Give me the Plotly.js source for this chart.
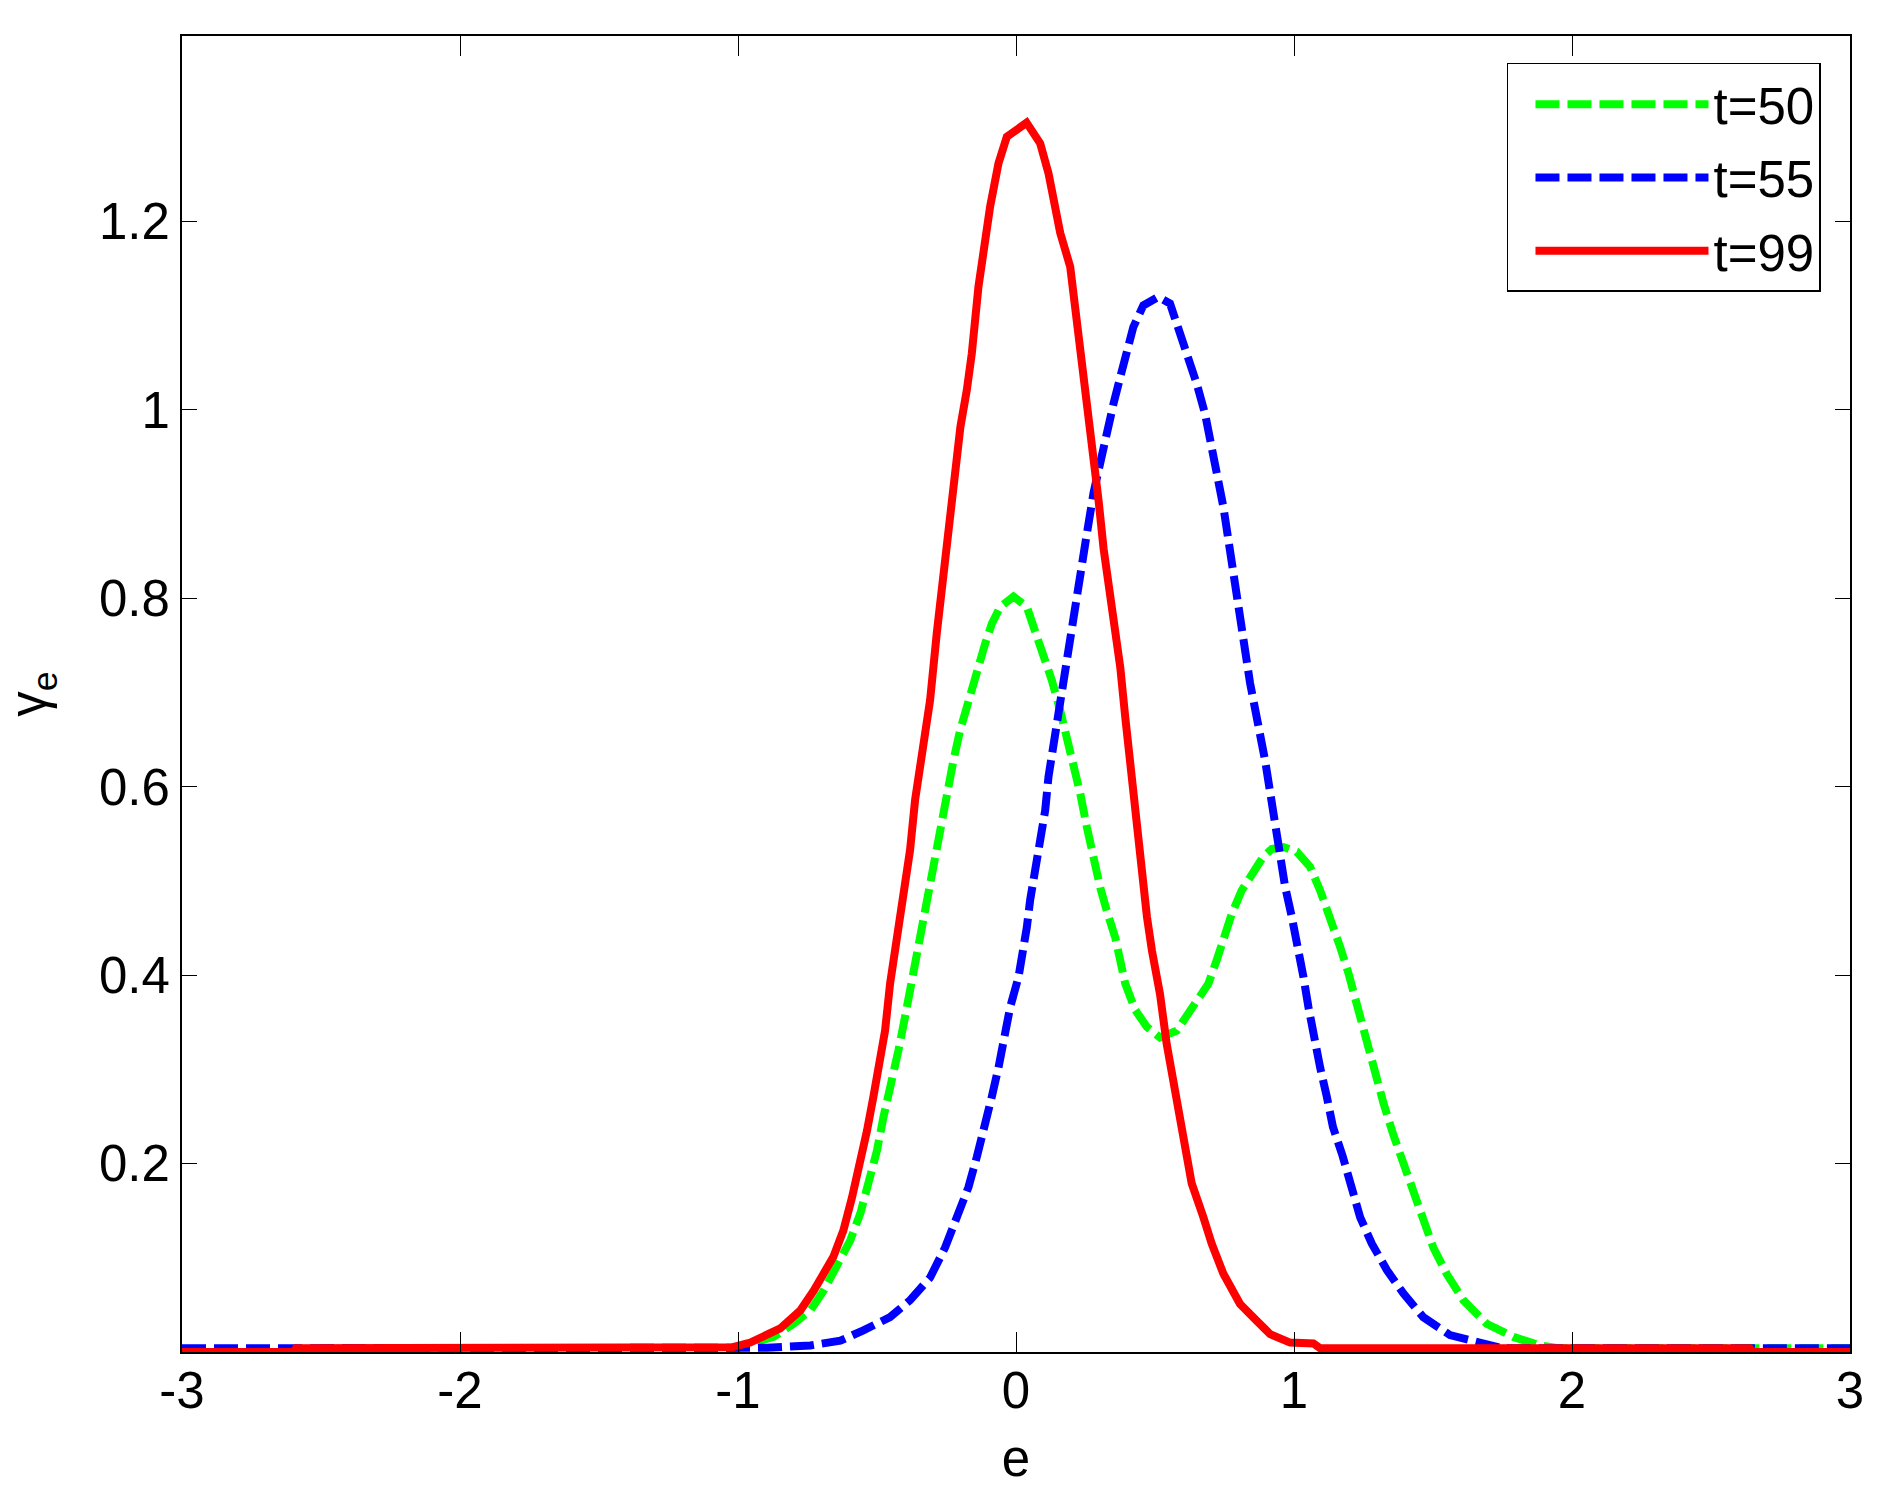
<!DOCTYPE html>
<html>
<head>
<meta charset="utf-8">
<script src="https://cdn.plot.ly/plotly-3.0.1.min.js"></script>
<style>
  html, body { margin: 0; padding: 0; background: #fff; }
  #chart { width: 1896px; height: 1497px; }
</style>
</head>
<body>
<div id="chart"></div>
<script>
// ---- data ----
const seriesNames = ["t=50", "t=55", "t=99"];

const xT50 = [-3, -1.0, -0.98, -0.872, -0.8, -0.74, -0.692, -0.644, -0.597, -0.56, -0.53, -0.5, -0.477, -0.447, -0.423, -0.399, -0.375, -0.351, -0.327, -0.303, -0.285, -0.267, -0.249, -0.225, -0.201, -0.171, -0.141, -0.111, -0.087, -0.057, -0.009, 0.039, 0.063, 0.099, 0.129, 0.159, 0.183, 0.207, 0.231, 0.255, 0.279, 0.303, 0.327, 0.357, 0.393, 0.429, 0.471, 0.518, 0.578, 0.614, 0.656, 0.692, 0.722, 0.746, 0.776, 0.812, 0.854, 0.89, 0.92, 0.962, 1.01, 1.058, 1.094, 1.13, 1.166, 1.196, 1.226, 1.262, 1.292, 1.322, 1.358, 1.394, 1.429, 1.459, 1.501, 1.549, 1.609, 1.693, 1.789, 1.885, 1.95, 3];
const yT50 = [0, 0.004, 0.007, 0.016, 0.03, 0.044, 0.065, 0.09, 0.118, 0.147, 0.179, 0.214, 0.249, 0.285, 0.32, 0.356, 0.395, 0.434, 0.465, 0.501, 0.533, 0.568, 0.596, 0.628, 0.66, 0.692, 0.724, 0.752, 0.773, 0.791, 0.802, 0.791, 0.77, 0.742, 0.713, 0.681, 0.653, 0.625, 0.593, 0.557, 0.522, 0.493, 0.468, 0.44, 0.391, 0.363, 0.345, 0.334, 0.341, 0.356, 0.373, 0.391, 0.416, 0.441, 0.465, 0.49, 0.508, 0.526, 0.534, 0.536, 0.531, 0.515, 0.49, 0.462, 0.43, 0.402, 0.368, 0.327, 0.295, 0.264, 0.23, 0.2, 0.17, 0.14, 0.111, 0.083, 0.055, 0.03, 0.016, 0.007, 0.004, 0.004];

const xT55 = [-3, -0.896, -0.74, -0.632, -0.549, -0.453, -0.381, -0.309, -0.255, -0.213, -0.171, -0.141, -0.111, -0.087, -0.063, -0.045, -0.021, 0.009, 0.027, 0.039, 0.051, 0.069, 0.087, 0.105, 0.117, 0.135, 0.153, 0.171, 0.189, 0.207, 0.225, 0.243, 0.255, 0.279, 0.303, 0.327, 0.351, 0.375, 0.399, 0.422, 0.458, 0.512, 0.554, 0.584, 0.614, 0.65, 0.68, 0.704, 0.722, 0.746, 0.764, 0.794, 0.818, 0.842, 0.896, 0.914, 0.932, 0.95, 0.968, 0.992, 1.016, 1.034, 1.052, 1.07, 1.094, 1.118, 1.14, 1.175, 1.208, 1.238, 1.28, 1.334, 1.394, 1.465, 1.561, 1.669, 1.75, 3];
const yT55 = [0.004, 0.0045, 0.007, 0.012, 0.023, 0.037, 0.055, 0.079, 0.111, 0.143, 0.175, 0.207, 0.239, 0.271, 0.302, 0.334, 0.366, 0.398, 0.426, 0.451, 0.48, 0.511, 0.547, 0.575, 0.611, 0.646, 0.678, 0.71, 0.745, 0.78, 0.812, 0.844, 0.869, 0.912, 0.947, 0.975, 1.007, 1.035, 1.064, 1.088, 1.111, 1.12, 1.113, 1.088, 1.06, 1.028, 0.996, 0.965, 0.933, 0.897, 0.862, 0.805, 0.756, 0.71, 0.628, 0.593, 0.561, 0.526, 0.494, 0.462, 0.43, 0.398, 0.366, 0.334, 0.302, 0.271, 0.239, 0.208, 0.177, 0.143, 0.115, 0.087, 0.062, 0.037, 0.018, 0.009, 0.004, 0.004];

const xT99 = [-3, -2.6, -2.59, -1.022, -0.956, -0.848, -0.776, -0.728, -0.657, -0.621, -0.59, -0.56, -0.536, -0.513, -0.489, -0.471, -0.453, -0.435, -0.405, -0.381, -0.363, -0.333, -0.309, -0.285, -0.249, -0.219, -0.2, -0.177, -0.159, -0.135, -0.117, -0.093, -0.063, -0.033, 0.038, 0.087, 0.117, 0.141, 0.159, 0.195, 0.213, 0.237, 0.255, 0.279, 0.297, 0.315, 0.351, 0.375, 0.393, 0.411, 0.435, 0.471, 0.489, 0.518, 0.542, 0.566, 0.599, 0.632, 0.674, 0.704, 0.746, 0.806, 0.866, 0.914, 0.986, 1.07, 1.094, 2.64, 2.65, 3];
const yT99 = [0, 0, 0.004, 0.005, 0.01, 0.025, 0.044, 0.065, 0.101, 0.129, 0.164, 0.2, 0.235, 0.271, 0.306, 0.341, 0.391, 0.426, 0.48, 0.533, 0.586, 0.639, 0.692, 0.763, 0.853, 0.94, 0.982, 1.021, 1.06, 1.131, 1.17, 1.216, 1.262, 1.29, 1.305, 1.283, 1.251, 1.216, 1.188, 1.152, 1.11, 1.053, 1.011, 0.954, 0.904, 0.853, 0.78, 0.727, 0.674, 0.621, 0.55, 0.462, 0.426, 0.38, 0.327, 0.285, 0.232, 0.179, 0.143, 0.115, 0.083, 0.051, 0.033, 0.019, 0.01, 0.009, 0.004, 0.004, 0, 0];

const xTickVals = [-3, -2, -1, 0, 1, 2, 3];
const xTickText = ["-3", "-2", "-1", "0", "1", "2", "3"];
const yTickVals = [0.2, 0.4, 0.6, 0.8, 1, 1.2];
const yTickText = ["0.2", "0.4", "0.6", "0.8", "1", "1.2"];

// ---- chart ----
const FONT = "Liberation Sans, Arial, Helvetica, sans-serif";
const traces = [
  {x: xT50, y: yT50, name: seriesNames[0], legendgroup: "g1", mode: "lines",
   line: {color: "#00ff00", width: 8, dash: "24px,8px"}},
  {x: xT55, y: yT55, name: seriesNames[1], legendgroup: "g2", mode: "lines",
   line: {color: "#0000ff", width: 8, dash: "24px,8px"}},
  {x: xT99, y: yT99, name: seriesNames[2], legendgroup: "g3", mode: "lines",
   line: {color: "#ff0000", width: 8}}
];

const axisCommon = {
  showgrid: false, zeroline: false,
  showline: true, linecolor: "#000", linewidth: 2,
  mirror: "ticks", ticks: "inside", tickcolor: "#000", tickwidth: 1,
  tickfont: {family: FONT, size: 51, color: "#000"},
  automargin: false
};

const layout = {
  width: 1896, height: 1497,
  paper_bgcolor: "#fff", plot_bgcolor: "#fff",
  margin: {l: 182, r: 46, t: 36, b: 145},
  font: {family: FONT, color: "#000"},
  showlegend: true,
  legend: {
    x: 0.9826, y: 0.9795, xanchor: "right", yanchor: "top",
    bgcolor: "#fff", bordercolor: "#000", borderwidth: 1.5,
    font: {family: FONT, size: 51, color: "#000"},
    itemwidth: 173, indentation: 22,
    traceorder: "grouped", tracegroupgap: 4
  },
  xaxis: Object.assign({}, axisCommon, {
    range: [-3, 3], tickmode: "array", tickvals: xTickVals, ticktext: xTickText,
    ticklen: 20, ticklabelstandoff: -7,
    title: {text: "e", font: {family: FONT, size: 51, color: "#000"}, standoff: 22}
  }),
  yaxis: Object.assign({}, axisCommon, {
    range: [0, 1.397], tickmode: "array", tickvals: yTickVals, ticktext: yTickText,
    ticklen: 15, ticklabelstandoff: 0,
    title: {text: "γ<sub>e</sub>", font: {family: FONT, size: 51, color: "#000"}, standoff: 42}
  })
};

Plotly.newPlot("chart", traces, layout, {staticPlot: true, displayModeBar: false});
</script>
</body>
</html>
